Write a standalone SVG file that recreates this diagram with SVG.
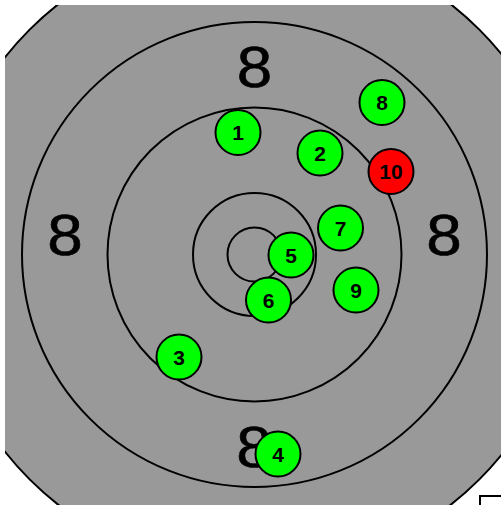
<svg xmlns="http://www.w3.org/2000/svg" width="501" height="505" viewBox="0 0 501 505">
<defs>
<style>
.ring{fill:none;stroke:#000;stroke-width:2}
.lbl{font-family:"Liberation Sans",Arial,sans-serif;font-size:57px;fill:#000;stroke:#000;stroke-width:0.6;text-anchor:middle}
.shot circle{stroke:#000;stroke-width:2}
.shot text{font-family:"Liberation Sans",Arial,sans-serif;font-size:21px;font-weight:bold;fill:#000;text-anchor:middle}
.g{fill:#00ff00}
.r{fill:#ff0000}
</style>
<clipPath id="clip"><rect x="5" y="5" width="496" height="500"/></clipPath>
</defs>
<rect width="501" height="505" fill="#fff"/>
<g id="target" clip-path="url(#clip)">
<circle cx="254.5" cy="254.5" r="318" fill="#999999" stroke="#000" stroke-width="2"/>
<circle class="ring" cx="254.5" cy="254.5" r="232.5"/>
<circle class="ring" cx="254.5" cy="254.5" r="147"/>
<circle class="ring" cx="254.5" cy="254.5" r="61.5"/>
<circle class="ring" cx="254.5" cy="254.5" r="27"/>
<text class="lbl" transform="translate(254.5 87) scale(1.12 1)">8</text>
<text class="lbl" transform="translate(65 255) scale(1.12 1)">8</text>
<text class="lbl" transform="translate(444 255) scale(1.12 1)">8</text>
<text class="lbl" transform="translate(254 467) scale(1.12 1)">8</text>
</g>
<g id="shot1" class="shot"><circle class="g" cx="238" cy="132.5" r="22.5"/><text x="238" y="140">1</text></g>
<g id="shot2" class="shot"><circle class="g" cx="320" cy="153" r="22.5"/><text x="320" y="160.5">2</text></g>
<g id="shot3" class="shot"><circle class="g" cx="179" cy="357" r="22.5"/><text x="179" y="364.5">3</text></g>
<g id="shot4" class="shot"><circle class="g" cx="278" cy="454" r="22.5"/><text x="278" y="461.5">4</text></g>
<g id="shot5" class="shot"><circle class="g" cx="291" cy="255" r="22.5"/><text x="291" y="262.5">5</text></g>
<g id="shot6" class="shot"><circle class="g" cx="268.5" cy="300" r="22.5"/><text x="268.5" y="307.5">6</text></g>
<g id="shot7" class="shot"><circle class="g" cx="340.5" cy="228" r="22.5"/><text x="340.5" y="235.5">7</text></g>
<g id="shot8" class="shot"><circle class="g" cx="382" cy="102.5" r="22.5"/><text x="382" y="110">8</text></g>
<g id="shot9" class="shot"><circle class="g" cx="356" cy="290" r="22.5"/><text x="356" y="297.5">9</text></g>
<g id="shot10" class="shot"><circle class="r" cx="391" cy="171.5" r="22.5"/><text x="391" y="179">10</text></g>
<rect x="480" y="496" width="40" height="30" fill="#fff" stroke="#000" stroke-width="2"/>
</svg>
